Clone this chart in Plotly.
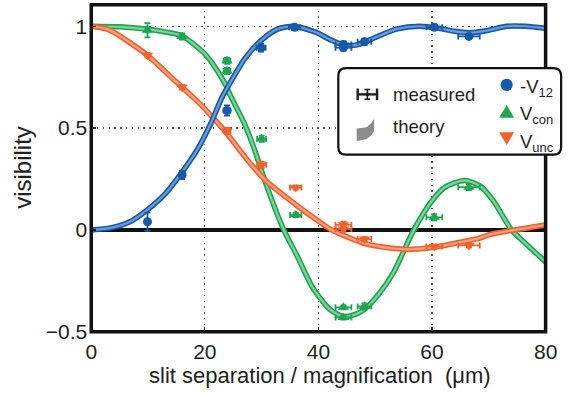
import plotly.graph_objects as go

W, H = 577, 406

# ---- measured visibilities -------------------------------------------------
v12_x = [9.9, 16.0, 23.9, 29.9, 35.8, 44.4, 44.4, 48.1, 60.4, 66.5]
v12_y = [0.04, 0.27, 0.586, 0.895, 0.995, 0.91, 0.895, 0.924, 0.995, 0.95]
v12_ex = [0.3, 0.4, 0.6, 0.8, 1.0, 1.4, 1.4, 1.2, 1.4, 1.9]
v12_ey = [0.045, 0.02, 0.025, 0.02, 0.01, 0.015, 0.015, 0.015, 0.01, 0.01]

con_x = [9.9, 16.0, 23.9, 23.9, 30.0, 36.0, 44.4, 44.4, 48.1, 60.4, 66.5]
con_y = [0.98, 0.95, 0.83, 0.78, 0.448, 0.073, -0.38, -0.43, -0.376, 0.062, 0.21]
con_ex = [0.3, 0.4, 0.6, 0.6, 0.8, 1.0, 1.4, 1.4, 1.2, 1.4, 1.9]
con_ey = [0.035, 0.015, 0.015, 0.015, 0.015, 0.01, 0.01, 0.01, 0.015, 0.015, 0.015]

unc_x = [9.9, 16.0, 23.9, 30.0, 36.0, 44.4, 44.4, 48.1, 60.4, 66.5]
unc_y = [0.857, 0.70, 0.486, 0.32, 0.208, 0.025, 0.005, -0.045, -0.081, -0.076]
unc_ex = [0.3, 0.4, 0.6, 0.8, 1.0, 1.4, 1.4, 1.2, 1.4, 1.9]
unc_ey = [0.01, 0.01, 0.015, 0.015, 0.01, 0.015, 0.015, 0.01, 0.01, 0.01]

# ---- theory curves -----------------------------------------------------------
th_v12_x = [0, 3.4, 6.8, 9.7, 13.1, 15.9, 18.8, 21, 23, 24.2, 27.1, 29.9, 32.8,
            35.7, 39.6, 42, 44.5, 47, 50, 53.7, 57.8, 61.2, 64, 66.5, 69.5,
            73.2, 76.5, 80]
th_v12_y = [0, 0.01, 0.04, 0.095, 0.18, 0.28, 0.40, 0.52, 0.65, 0.71, 0.843,
            0.93, 0.986, 1.0, 0.97, 0.935, 0.908, 0.91, 0.945, 0.986, 1.0,
            0.99, 0.975, 0.968, 0.978, 1.0, 1.0, 0.99]

th_con_x = [0, 5, 9.7, 13, 15.9, 19.9, 21.4, 23.7, 24.5, 27, 28.5, 31, 33.9,
            36.2, 39, 42, 44.4, 46.5, 48.1, 50.5, 53.2, 55, 56.8, 60, 62.3,
            65.7, 68.5, 70.8, 74, 76.6, 80]
th_con_y = [1.0, 0.997, 0.986, 0.972, 0.954, 0.867, 0.815, 0.71, 0.66, 0.52,
            0.414, 0.208, 0.0, -0.125, -0.284, -0.39, -0.425, -0.415, -0.39,
            -0.32, -0.21, -0.105, 0.0, 0.143, 0.21, 0.243, 0.215, 0.143, 0.0,
            -0.07, -0.157]

th_unc_x = [0, 2.8, 4.3, 9.7, 13.1, 16, 19.1, 21.3, 23.7, 27.6, 31, 36.2, 40.1,
            42.3, 47.6, 51, 54.9, 56.6, 60, 62.3, 64.6, 68, 70.3, 73.7, 80]
th_unc_y = [1.0, 0.986, 0.965, 0.862, 0.775, 0.70, 0.62, 0.555, 0.48, 0.34,
            0.235, 0.12, 0.041, 0.0, -0.062, -0.083, -0.095, -0.095, -0.086,
            -0.076, -0.062, -0.043, -0.022, -0.004, 0.024]

x_ticks = [0, 20, 40, 60, 80]
y_ticks = [-0.5, 0, 0.5, 1]
y_tick_text = ["\u22120.5", "0", "0.5", "1"]

BLUE, BLUE_L = "#1559a8", "#6d9bd8"
GREEN, GREEN_L = "#1fa552", "#7fd39b"
ORANGE, ORANGE_L = "#f0622b", "#f7a184"
INK = "#1e1e1e"

FONT = "Liberation Sans, Arial, Helvetica, sans-serif"

# plot area, in page pixels
PX_L, PX_R, PX_T, PX_B = 88, 557, 5, 341


def px(x):
    return x / W


def py(y):
    return 1 - y / H


def ppath(points, close=True):
    """SVG path in paper units from a list of ('M'|'L'|'Q', pixel coords...)."""
    out = []
    for cmd, *xy in points:
        coords = " ".join(f"{px(xy[i]):.5f},{py(xy[i + 1]):.5f}" for i in range(0, len(xy), 2))
        out.append(f"{cmd} {coords}")
    return " ".join(out) + (" Z" if close else "")


fig = go.Figure()

# theory bands: dark outline with a lighter core
for tx, ty, dark, light in [(th_con_x, th_con_y, GREEN, GREEN_L),
                            (th_unc_x, th_unc_y, ORANGE, ORANGE_L),
                            (th_v12_x, th_v12_y, BLUE, BLUE_L)]:
    fig.add_trace(go.Scatter(x=tx, y=ty, mode="lines",
                             line=dict(color=dark, width=5.5, shape="spline", smoothing=0.7),
                             hoverinfo="skip", showlegend=False))
    fig.add_trace(go.Scatter(x=tx, y=ty, mode="lines",
                             line=dict(color=light, width=2.2, shape="spline", smoothing=0.7),
                             hoverinfo="skip", showlegend=False))

# measured points with error bars
for mx, my, ex, ey, col, sym, size in [
        (v12_x, v12_y, v12_ex, v12_ey, BLUE, "circle", 9),
        (con_x, con_y, con_ex, con_ey, GREEN, "triangle-up", 10),
        (unc_x, unc_y, unc_ex, unc_ey, ORANGE, "triangle-down", 10)]:
    fig.add_trace(go.Scatter(
        x=mx, y=my, mode="markers",
        marker=dict(color=col, symbol=sym, size=size, line=dict(width=0)),
        error_x=dict(type="data", array=ex, color=col, thickness=1.8, width=3),
        error_y=dict(type="data", array=ey, color=col, thickness=1.8, width=3),
        showlegend=False))

axis_common = dict(
    showline=False, ticks="inside", ticklen=5,
    tickwidth=1.2, tickcolor=INK,
    tickfont=dict(family=FONT, size=21, color=INK),
    showgrid=True, gridcolor="#555", gridwidth=1.3, griddash="1.3px,4.5px",
    fixedrange=True,
)

fig.update_layout(
    width=W, height=H,
    margin=dict(l=0, r=0, t=0, b=0),
    paper_bgcolor="white", plot_bgcolor="rgba(0,0,0,0)",
    xaxis=dict(domain=[px(PX_L), px(PX_R)], range=[0, 80], zeroline=False,
               tickvals=x_ticks, ticklabelstandoff=5, **axis_common),
    yaxis=dict(domain=[py(PX_B), py(PX_T)], range=[-0.5, 1.105],
               zeroline=True, zerolinecolor="#111", zerolinewidth=3.5,
               tickvals=y_ticks, ticktext=y_tick_text, ticklabelstandoff=3,
               **axis_common),
    showlegend=False,
)

# frame around the plot area
fig.add_shape(type="rect", xref="x domain", yref="y domain",
              x0=0, x1=1, y0=0, y1=1, layer="above",
              line=dict(color="#111", width=3.5))

# ---- legend box ------------------------------------------------------------
bx0, bx1, by0, by1, r = 343, 573, 70, 159, 8
fig.add_shape(type="path", xref="paper", yref="paper", layer="above",
              path=ppath([("M", bx0 + r, by0), ("L", bx1 - r, by0),
                          ("Q", bx1, by0, bx1, by0 + r), ("L", bx1, by1 - r),
                          ("Q", bx1, by1, bx1 - r, by1), ("L", bx0 + r, by1),
                          ("Q", bx0, by1, bx0, by1 - r), ("L", bx0, by0 + r),
                          ("Q", bx0, by0, bx0 + r, by0)]),
              fillcolor="white", line=dict(color="#111", width=2.2))


def seg(x0, y0, x1, y1, w=2.2):
    fig.add_shape(type="line", xref="paper", yref="paper",
                  x0=px(x0), y0=py(y0), x1=px(x1), y1=py(y1),
                  layer="above", line=dict(color=INK, width=w))


# "measured" glyph: error bar cross with caps
seg(363, 97, 383, 97, 2.4)
seg(363, 91, 363, 103, 2.4)
seg(383, 91, 383, 103, 2.4)
seg(373, 92, 373, 102, 1.6)
seg(370, 92, 376, 92, 1.6)
seg(370, 102, 376, 102, 1.6)
fig.add_shape(type="circle", xref="paper", yref="paper",
              x0=px(371), x1=px(375), y0=py(99), y1=py(95),
              layer="above", fillcolor=INK, line=dict(width=0))

# "theory" glyph: grey band swatch
fig.add_shape(type="path", xref="paper", yref="paper", layer="above",
              path=ppath([("M", 362, 132), ("L", 371, 131), ("Q", 376, 129, 380, 122),
                          ("L", 380, 135), ("Q", 376, 141, 372, 143), ("L", 362, 145)]),
              fillcolor="#8c8c8c", line=dict(width=0))

# series symbols
fig.add_shape(type="circle", xref="paper", yref="paper",
              x0=px(510.5), x1=px(523), y0=py(93.5), y1=py(81),
              layer="above", fillcolor=BLUE, line=dict(width=0))
fig.add_shape(type="path", xref="paper", yref="paper", layer="above",
              path=ppath([("M", 516.8, 108), ("L", 524.5, 121), ("L", 509, 121)]),
              fillcolor=GREEN, line=dict(width=0))
fig.add_shape(type="path", xref="paper", yref="paper", layer="above",
              path=ppath([("M", 509, 136), ("L", 524.5, 136), ("L", 516.8, 149)]),
              fillcolor=ORANGE, line=dict(width=0))

ann_font = dict(family=FONT, size=18.5, color=INK)
fig.add_annotation(x=px(397), y=py(97), xref="paper", yref="paper", text="measured",
                   showarrow=False, xanchor="left", yanchor="middle", font=ann_font)
fig.add_annotation(x=px(397), y=py(130), xref="paper", yref="paper", text="theory",
                   showarrow=False, xanchor="left", yanchor="middle", font=ann_font)
fig.add_annotation(x=px(529), y=py(90), xref="paper", yref="paper",
                   text="-V<sub>12</sub>", showarrow=False, xanchor="left",
                   yanchor="middle", font=ann_font)
fig.add_annotation(x=px(529), y=py(118), xref="paper", yref="paper",
                   text="V<sub>con</sub>", showarrow=False, xanchor="left",
                   yanchor="middle", font=ann_font)
fig.add_annotation(x=px(529), y=py(147), xref="paper", yref="paper",
                   text="V<sub>unc</sub>", showarrow=False, xanchor="left",
                   yanchor="middle", font=ann_font)

# axis titles
fig.add_annotation(x=px(324), y=py(386), xref="paper", yref="paper",
                   text="slit separation / magnification  (\u03bcm)",
                   showarrow=False, xanchor="center", yanchor="middle",
                   font=dict(family=FONT, size=22, color=INK))
fig.add_annotation(x=px(17), y=py(172), xref="paper", yref="paper", text="visibility",
                   textangle=-90, showarrow=False, xanchor="center", yanchor="middle",
                   font=dict(family=FONT, size=24, color=INK))

# keep the page exactly the size of the figure
page_css = (
    "document.documentElement.style.margin='0';"
    "document.documentElement.style.overflow='hidden';"
    "document.body.style.margin='0';"
    "document.body.style.overflow='hidden';"
    "var gd=document.getElementById('{plot_id}');"
    "gd.style.overflow='hidden';"
    "var ss=gd.getElementsByTagName('svg');"
    "for(var i=0;i<ss.length;i++) ss[i].style.overflow='hidden';"
)

fig.write_html("out.html", config={"staticPlot": True, "displayModeBar": False},
               post_script=page_css)
